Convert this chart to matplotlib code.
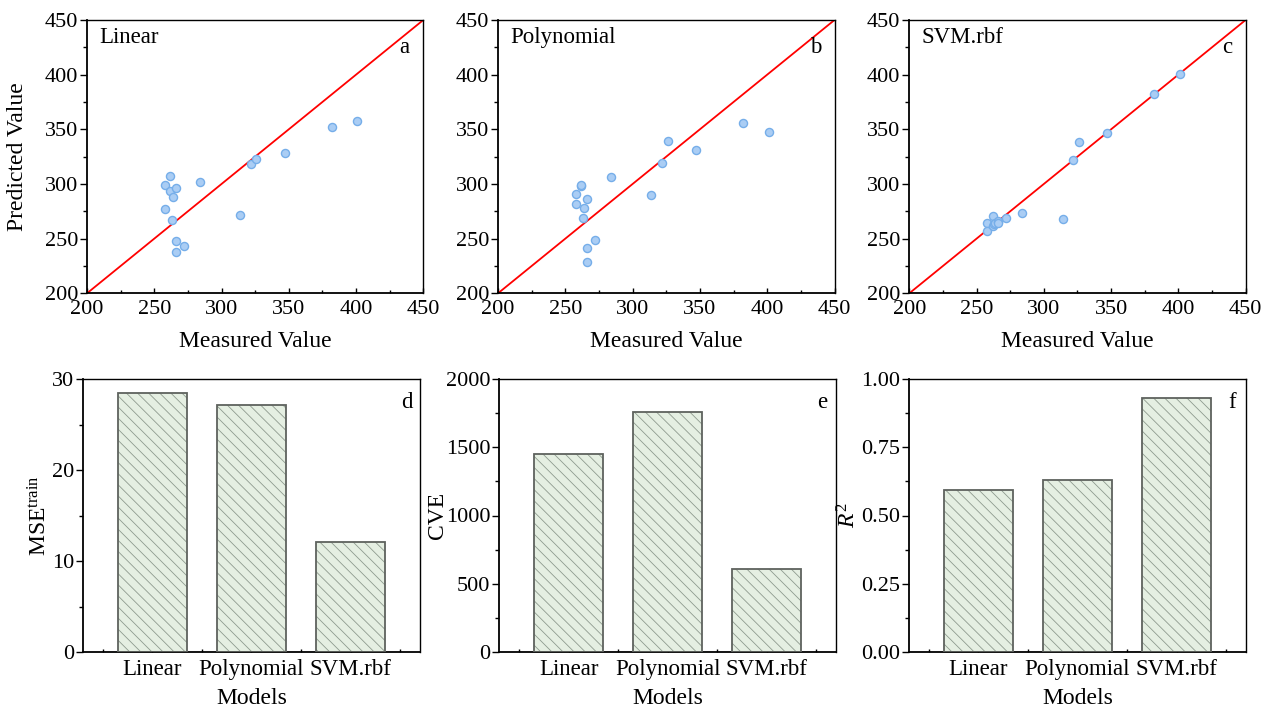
import matplotlib
matplotlib.use("Agg")
import matplotlib.pyplot as plt
import numpy as np
from matplotlib.ticker import MultipleLocator

plt.rcParams['font.family'] = ['Liberation Serif', 'DejaVu Serif']
plt.rcParams['mathtext.fontset'] = 'custom'
plt.rcParams['mathtext.rm'] = 'Liberation Serif'
plt.rcParams['mathtext.it'] = 'Liberation Serif:italic'
plt.rcParams['hatch.linewidth'] = 0.6

# ---------------- data ----------------
measured = [258, 258, 262, 262, 263, 264, 266, 266, 266, 272, 284, 314, 322, 326, 347, 382, 401]
pred_linear = [299, 277, 307, 294, 267, 288, 296, 248, 237.5, 243, 302, 272, 318, 323, 328, 352, 358]
pred_poly = [290.5, 281.5, 298.5, 299, 269, 278, 286, 241.5, 229, 249, 306.5, 289.5, 319, 339, 331, 356, 348]
pred_svm = [264.5, 257, 271, 262, 263.5, 264, 265.5, 266, 264.5, 268.5, 273, 268, 321.5, 338, 346.5, 382, 400.5]

models = ["Linear", "Polynomial", "SVM.rbf"]
mse_train = [28.5, 27.15, 12.05]
cve = [1449, 1759, 607]
r2 = [0.592, 0.629, 0.929]

scatter_titles = ["Linear", "Polynomial", "SVM.rbf"]
scatter_letters = ["a", "b", "c"]
bar_letters = ["d", "e", "f"]

W, H = 1273, 708
fig = plt.figure(figsize=(W / 100, H / 100), dpi=100)

TICK_FS = 16
LABEL_FS = 17
NOTE_FS = 16.5


def px_axes(left, right, top, bottom):
    return fig.add_axes([left / W, (H - bottom) / H, (right - left) / W, (bottom - top) / H])


def style_ticks(ax):
    ax.tick_params(axis='y', which='major', direction='out', length=5, width=1, labelsize=TICK_FS, pad=1.5,
                   right=False)
    ax.tick_params(axis='y', which='minor', direction='out', length=3, width=1, right=False)
    ax.tick_params(axis='x', which='major', direction='in', length=3.5, width=1, labelsize=TICK_FS, pad=5,
                   top=False)
    ax.tick_params(axis='x', which='minor', direction='in', length=2.5, width=1, top=False)
    for s in ['left', 'bottom']:
        ax.spines[s].set_linewidth(1.3)
    for s in ['top', 'right']:
        ax.spines[s].set_linewidth(1.0)


# ---------------- scatter row ----------------
scatter_boxes = [(87, 423.3), (498, 834.5), (909.3, 1245.6)]
preds = [pred_linear, pred_poly, pred_svm]
for (l, r), pr, title, letter in zip(scatter_boxes, preds, scatter_titles, scatter_letters):
    ax = px_axes(l, r, 20, 293.3)
    ax.set_xlim(200, 450)
    ax.set_ylim(200, 450)
    ax.plot([200, 450], [200, 450], color='#ff0000', lw=1.3, zorder=2)
    ax.scatter(measured, pr, s=34, facecolor='#aacdf4', edgecolor='#76aee9', linewidth=1.0, zorder=3)
    ax.xaxis.set_major_locator(MultipleLocator(50))
    ax.xaxis.set_minor_locator(MultipleLocator(25))
    ax.yaxis.set_major_locator(MultipleLocator(50))
    ax.yaxis.set_minor_locator(MultipleLocator(25))
    style_ticks(ax)
    ax.text(0.036, 0.935, title, transform=ax.transAxes, fontsize=NOTE_FS, ha='left', va='center')
    ax.text(0.945, 0.90, letter, transform=ax.transAxes, fontsize=NOTE_FS, ha='center', va='center')
    ax.set_xlabel("Measured Value", fontsize=LABEL_FS)
    ax.xaxis.set_label_coords(0.5, -0.175)
    ax.xaxis.label.set_va('center')
    if letter == 'a':
        ax.set_ylabel("Predicted Value", fontsize=LABEL_FS, va='center')
        ax.yaxis.set_label_coords(-0.208, 0.5)

# ---------------- bar row ----------------
bar_boxes = [(83, 420), (499.3, 836), (909, 1246)]
bar_data = [mse_train, cve, r2]
ylabels = [r"MSE$^{\mathrm{train}}$", "CVE", r"$R^2$"]
ylims = [(0, 30), (0, 2000), (0, 1.0)]
ymajor = [10, 500, 0.25]
yminor = [5, 250, 0.125]
ylabel_x = [-0.128, -0.185, -0.178]
xpos = np.arange(1, len(models) + 1)
for (l, r), vals, yl, lim, mj, mn, lx, letter in zip(bar_boxes, bar_data, ylabels, ylims, ymajor,
                                                  yminor, ylabel_x, bar_letters):
    ax = px_axes(l, r, 379, 652)
    ax.set_xlim(0.3, 3.7)
    ax.set_ylim(*lim)
    ax.bar(xpos, vals, width=0.7, color='#e5efe2', edgecolor='#8e9a8e', hatch='\\\\\\', linewidth=0,
           zorder=2)
    ax.bar(xpos, vals, width=0.7, fill=False, edgecolor='#5e625e', linewidth=1.3, zorder=3)
    ax.set_xticks(xpos)
    ax.set_xticklabels(models)
    ax.set_xticks([0.5, 1.5, 2.5, 3.5], minor=True)
    ax.yaxis.set_major_locator(MultipleLocator(mj))
    ax.yaxis.set_minor_locator(MultipleLocator(mn))
    style_ticks(ax)
    ax.tick_params(axis='x', which='major', labelsize=16.5, pad=5)
    if letter == 'f':
        ax.yaxis.set_major_formatter(matplotlib.ticker.FormatStrFormatter('%.2f'))
    ax.set_ylabel(yl, fontsize=LABEL_FS, va='center')
    ax.yaxis.set_label_coords(lx, 0.5)
    ax.set_xlabel("Models", fontsize=LABEL_FS)
    ax.xaxis.label.set_va('center')
    ax.xaxis.set_label_coords(0.5, -0.17)
    ax.text(0.96, 0.915, letter, transform=ax.transAxes, fontsize=NOTE_FS, ha='center', va='center')

fig.savefig("out.png", dpi=100)
